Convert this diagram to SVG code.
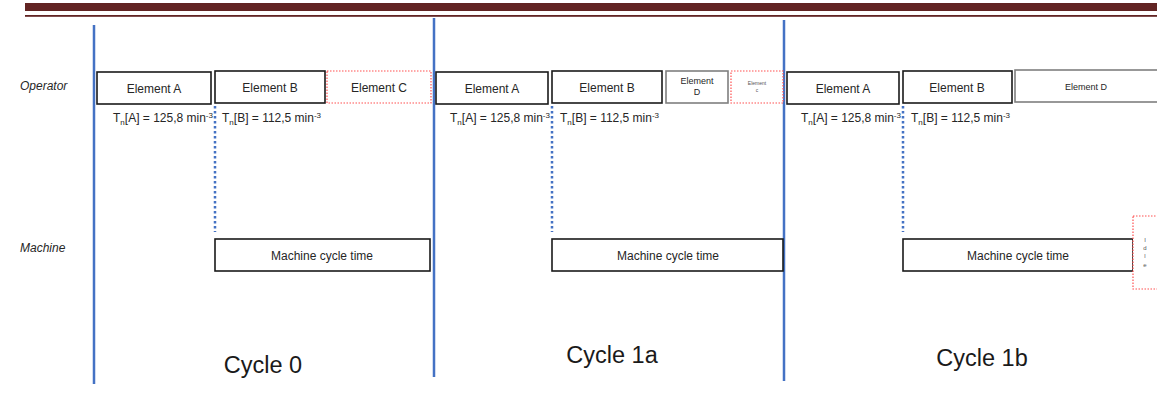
<svg xmlns="http://www.w3.org/2000/svg" width="1157" height="398" viewBox="0 0 1157 398">
<style>
text{font-family:"Liberation Sans",Arial,sans-serif;fill:#262626}
.lbl{font-size:12px;text-anchor:middle}
.tn{font-size:12px}
.sub{font-size:8px}
.box{fill:#fff;stroke:#1a1a1a;stroke-width:1.6}
.gbox{fill:#fff;stroke:#7f7f7f;stroke-width:1.6}
.rbox{fill:#fff;stroke:#ff5050;stroke-width:1.2;stroke-dasharray:1.5 1.5}
.cyc{stroke:#4472c4;stroke-width:2.5}
.dot{stroke:#4472c4;stroke-width:2.5;stroke-dasharray:2.5 2.5}
.big{font-size:23.5px;text-anchor:middle;fill:#1a1a1a}
.side{font-size:12px;font-style:italic}
.tiny{font-size:6px;text-anchor:middle;fill:#555}
</style>
<g id="header">
<rect x="25" y="3" width="1132" height="8" fill="#622423"/>
<rect x="25" y="15" width="1132" height="1.8" fill="#622423"/>
</g>
<g id="connectors">
<line class="cyc" x1="94" y1="25" x2="94" y2="384"/>
<line class="cyc" x1="434" y1="18" x2="434" y2="377"/>
<line class="cyc" x1="784" y1="20" x2="784" y2="381"/>
<line class="dot" x1="215" y1="106" x2="215" y2="232"/>
<line class="dot" x1="552" y1="106" x2="552" y2="232"/>
<line class="dot" x1="903" y1="106" x2="903" y2="232"/>
</g>
<g id="labels">
<text class="side" x="20" y="90">Operator</text>
<text class="side" x="20" y="252">Machine</text>
</g>
<g id="c0-elemA"><rect class="box" x="97" y="72" width="114" height="32"/><text class="lbl" x="154" y="93">Element A</text></g>
<g id="c0-elemB"><rect class="box" x="215" y="71" width="110" height="32"/><text class="lbl" x="270" y="92">Element B</text></g>
<g id="c0-elemC"><rect class="rbox" x="327" y="71" width="104" height="32"/><text class="lbl" x="379" y="92">Element C</text></g>
<g id="c1a-elemA"><rect class="box" x="436" y="72" width="112" height="32"/><text class="lbl" x="492" y="93">Element A</text></g>
<g id="c1a-elemB"><rect class="box" x="552" y="71" width="110" height="32"/><text class="lbl" x="607" y="92">Element B</text></g>
<g id="c1a-elemD"><rect class="gbox" x="666" y="71" width="62" height="32"/><text class="lbl" style="font-size:9px" x="697" y="84">Element</text><text class="lbl" style="font-size:9px" x="697" y="95">D</text></g>
<g id="c1a-elemC"><rect class="rbox" x="731" y="71" width="52" height="32"/><text class="tiny" style="font-size:5px" x="757" y="85">Element</text><text class="tiny" style="font-size:5px" x="757" y="92">c</text></g>
<g id="c1b-elemA"><rect class="box" x="787" y="72" width="112" height="32"/><text class="lbl" x="843" y="93">Element A</text></g>
<g id="c1b-elemB"><rect class="box" x="903" y="71" width="109" height="32"/><text class="lbl" x="957" y="92">Element B</text></g>
<g id="c1b-elemD"><rect class="gbox" x="1015" y="70" width="150" height="32"/><text class="lbl" style="font-size:9px" x="1086" y="90">Element D</text></g>
<g id="tn">
<text class="tn" x="113" y="122">T<tspan class="sub" dy="3">n</tspan><tspan dy="-3">[A] = 125,8 min</tspan><tspan class="sub" dy="-4">-3</tspan></text>
<text class="tn" x="222" y="122">T<tspan class="sub" dy="3">n</tspan><tspan dy="-3">[B] = 112,5 min</tspan><tspan class="sub" dy="-4">-3</tspan></text>
<text class="tn" x="450" y="122">T<tspan class="sub" dy="3">n</tspan><tspan dy="-3">[A] = 125,8 min</tspan><tspan class="sub" dy="-4">-3</tspan></text>
<text class="tn" x="560" y="122">T<tspan class="sub" dy="3">n</tspan><tspan dy="-3">[B] = 112,5 min</tspan><tspan class="sub" dy="-4">-3</tspan></text>
<text class="tn" x="801" y="122">T<tspan class="sub" dy="3">n</tspan><tspan dy="-3">[A] = 125,8 min</tspan><tspan class="sub" dy="-4">-3</tspan></text>
<text class="tn" x="911" y="122">T<tspan class="sub" dy="3">n</tspan><tspan dy="-3">[B] = 112,5 min</tspan><tspan class="sub" dy="-4">-3</tspan></text>
</g>
<g id="c0-machine"><rect class="box" x="215" y="239" width="215" height="32"/><text class="lbl" x="322" y="260">Machine cycle time</text></g>
<g id="c1a-machine"><rect class="box" x="552" y="239" width="231" height="32"/><text class="lbl" x="668" y="260">Machine cycle time</text></g>
<g id="c1b-machine"><rect class="box" x="903" y="239" width="230" height="32"/><text class="lbl" x="1018" y="260">Machine cycle time</text></g>
<g id="idle"><rect class="rbox" x="1133" y="216" width="30" height="73"/>
<text class="tiny" x="1145" y="242">I</text>
<text class="tiny" x="1145" y="250">d</text>
<text class="tiny" x="1145" y="258">l</text>
<text class="tiny" x="1145" y="267">e</text>
</g>
<g id="cycles">
<text class="big" x="263" y="373">Cycle 0</text>
<text class="big" x="612" y="363">Cycle 1a</text>
<text class="big" x="982" y="366">Cycle 1b</text>
</g>
</svg>
